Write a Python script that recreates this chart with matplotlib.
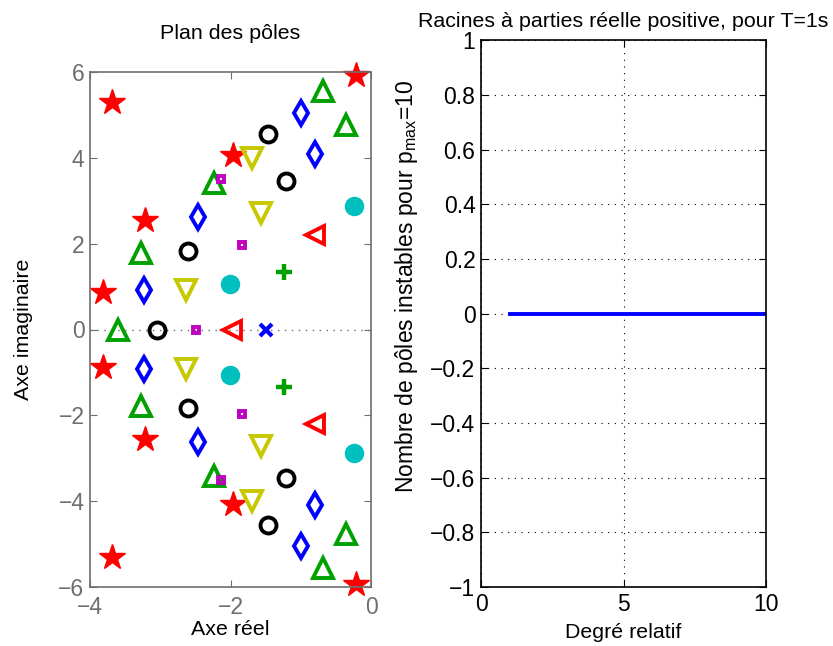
import matplotlib
matplotlib.use("Agg")
import matplotlib.pyplot as plt
from matplotlib.ticker import FuncFormatter
import numpy as np

plt.rcParams['font.family'] = ['Liberation Sans', 'DejaVu Sans']
plt.rcParams['axes.unicode_minus'] = True

# ---- Pole data (real part, positive imaginary part); conjugates mirrored ----
poles_x = {"re": [-1.50], "im": [0.0]}
poles_plus = {"re": [-1.24], "im": [1.34]}
poles_cyan = {"re": [-2.01, -0.24], "im": [1.07, 2.88]}
poles_ltri = {"re": [-1.98, -0.80], "im": [0.0, 2.20]}
poles_sq = {"re": [-2.49, -1.83, -2.14], "im": [0.0, 1.97, 3.51]}
poles_vtri = {"re": [-2.63, -1.56, -1.69], "im": [0.93, 2.71, 3.99]}
poles_circ = {"re": [-3.04, -2.60, -1.21, -1.46], "im": [0.0, 1.83, 3.45, 4.56]}
poles_diam = {"re": [-3.23, -2.46, -0.80, -1.00], "im": [0.92, 2.63, 4.09, 5.04]}
poles_tri = {"re": [-3.60, -3.27, -2.24, -0.36, -0.69], "im": [0.0, 1.79, 3.41, 4.77, 5.55]}
poles_star = {"re": [-3.82, -3.21, -1.97, -0.21, -3.69], "im": [0.88, 2.55, 4.07, 5.93, 5.30]}

# ---- Right panel data ----
degre = [1, 2, 3, 4, 5, 6, 7, 8, 9, 10]
nb_instables = [0, 0, 0, 0, 0, 0, 0, 0, 0, 0]

GREEN = '#00a000'
YELLOW = '#c8c800'
MAGENTA = '#bf00bf'
CYAN = '#00bfbf'

styles = [
    (poles_star, dict(marker='*', ms=19, color='red', mec='red', mfc='red', mew=1)),
    (poles_tri, dict(marker='^', ms=15, color=GREEN, mfc='none', mew=2.8)),
    (poles_diam, dict(marker='d', ms=12.5, color='blue', mfc='none', mew=2.8)),
    (poles_circ, dict(marker='o', ms=11.5, color='black', mfc='none', mew=2.8)),
    (poles_vtri, dict(marker='v', ms=15, color=YELLOW, mfc='none', mew=2.8)),
    (poles_sq, dict(marker='s', ms=5, color=MAGENTA, mfc='none', mew=2.8)),
    (poles_ltri, dict(marker='<', ms=13.5, color='red', mfc='none', mew=2.8)),
    (poles_x, dict(marker='x', ms=8, color='blue', mew=3)),
    (poles_cyan, dict(marker='o', ms=13, color=CYAN, mfc=CYAN, mew=1)),
    (poles_plus, dict(marker='+', ms=11, color=GREEN, mew=3.2)),
]

LABEL_FS = 15.4
TICK_FS = 16.5


def fmt(v, pos):
    v = round(v, 6)
    if v == 0:
        v = 0.0
    return ('%g' % v).replace('-', '\u2212')


fig = plt.figure(figsize=(8.33, 6.46), dpi=100)

GRAY = '#6e6e6e'
ax1 = fig.add_axes([90/833, 59/646, 281/833, 515/646])
ax1.axhline(0, color=GRAY, ls=(0, (1, 4)), lw=1, zorder=0)
for data, st in styles:
    re = np.array(data["re"])
    im = np.array(data["im"])
    xs = np.concatenate([re, re[im > 0]])
    ys = np.concatenate([im, -im[im > 0]])
    ax1.plot(xs, ys, ls='none', clip_on=False, **st)
ax1.set_xlim(-4, 0)
ax1.set_ylim(-6, 6)
ax1.set_xticks([-4, -2, 0])
ax1.set_yticks([-6, -4, -2, 0, 2, 4, 6])
for sp in ax1.spines.values():
    sp.set_color(GRAY)
    sp.set_linewidth(1.2)
ax1.tick_params(direction='in', colors=GRAY, labelsize=TICK_FS, length=5, top=True, right=True, pad=4)
ax1.tick_params(axis='x', pad=6.5)
ax1.set_xlabel('Axe réel', fontsize=LABEL_FS, labelpad=1)
ax1.set_ylabel('Axe imaginaire', fontsize=LABEL_FS, labelpad=18)
ax1.set_title('Plan des pôles', fontsize=LABEL_FS, pad=24)

ax2 = fig.add_axes([481/833, 59/646, 285/833, 546.6/646])
ax2.plot(degre, nb_instables, color='blue', lw=2.8)
ax2.set_xlim(0, 10)
ax2.set_ylim(-1, 1)
ax2.set_xticks([0, 5, 10])
ax2.set_yticks(np.round(np.arange(-1, 1.01, 0.2), 1))
ax2.yaxis.set_major_formatter(FuncFormatter(fmt))
ax2.grid(True, color='black', ls=(0, (1, 5)), lw=0.8)
for sp in ax2.spines.values():
    sp.set_linewidth(1.2)
ax2.tick_params(direction='in', labelsize=TICK_FS, length=5, top=True, right=True, pad=4)
ax2.set_xlabel('Degré relatif', fontsize=LABEL_FS, labelpad=5)
ax2.set_ylabel(r'Nombre de pôles instables pour p$_{\mathregular{max}}$=10', fontsize=16.5)
ax2.yaxis.set_label_coords(-0.215, 0.55)
ax2.set_title('Racines à parties réelle positive, pour T=1s', fontsize=LABEL_FS, pad=10)

fig.savefig('out.png', dpi=100)
